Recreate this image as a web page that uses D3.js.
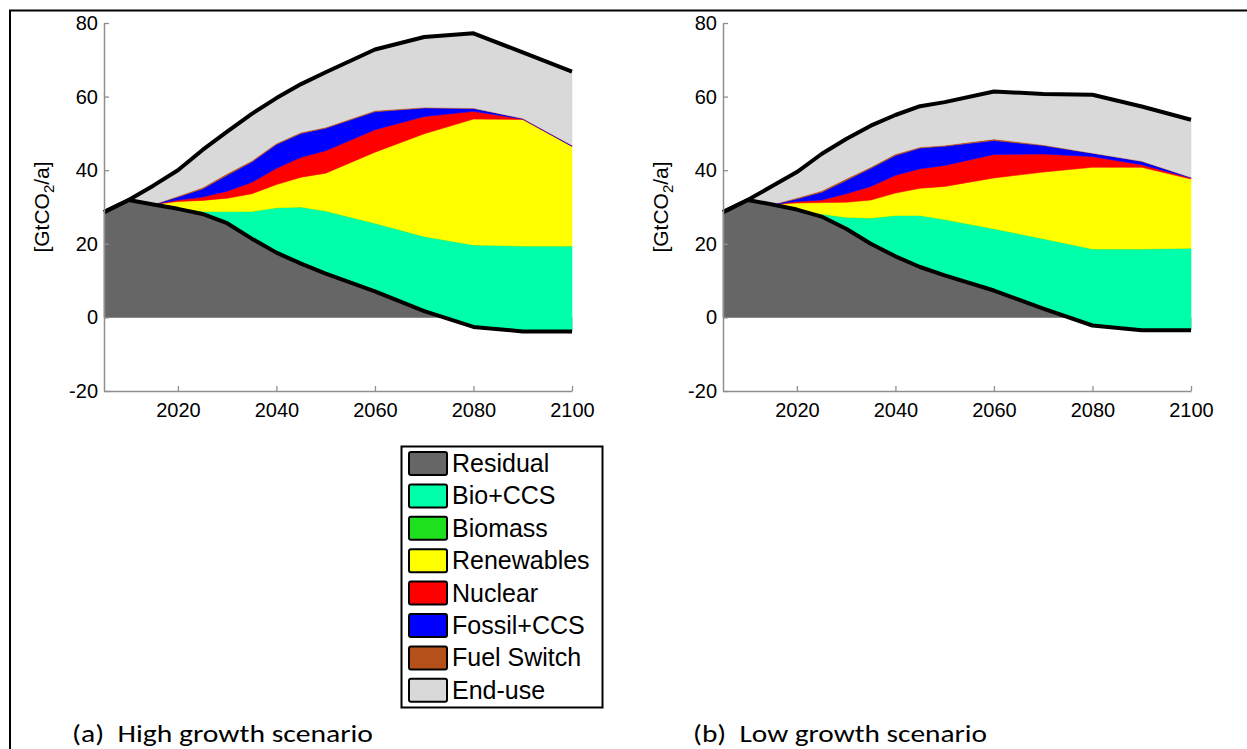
<!DOCTYPE html>
<html><head><meta charset="utf-8">
<script src="https://cdn.jsdelivr.net/npm/d3@7"></script>
<style>body{margin:0;background:#fff} svg{display:block} .cap{white-space:pre}</style>
</head><body><svg id="c" width="1247" height="749"></svg>
<script>
// ---------- data ----------
const years = [2005, 2010, 2015, 2020, 2025, 2030, 2035, 2040, 2045, 2050, 2060, 2070, 2080, 2090, 2100];
const seriesNames = ["Residual", "Bio+CCS", "Biomass", "Renewables", "Nuclear", "Fossil+CCS", "Fuel Switch", "End-use"];
const seriesColors = ["#666666", "#00FFAA", "#1FE01F", "#FFFF00", "#FF0000", "#0000FF", "#B5501A", "#D9D9D9"];

// (a) High growth scenario  [GtCO2/a], wedge sizes
const highResidual   = [28.6, 31.9, 30.7, 29.5, 28.1, 25.6, 21.4, 17.6, 14.6, 11.9, 7.1, 1.7, -2.6, -3.8, -3.8];
const highBioCCS     = [0, 0, 0, 0, 0.7, 3.2, 7.4, 12.2, 15.4, 17.0, 18.5, 20.3, 22.3, 23.2, 23.2];
const highBiomass    = [0, 0, 0, 0, 0, 0, 0, 0, 0, 0, 0, 0, 0, 0, 0];
const highRenewables = [0, 0, 0, 2.0, 3.0, 3.6, 4.8, 6.3, 8.1, 10.3, 19.3, 27.9, 34.2, 34.4, 27.1];
const highNuclear    = [0, 0, 0, 0.4, 0.9, 1.9, 3.1, 4.4, 5.4, 6.1, 6.1, 4.7, 2.1, 0.1, 0];
const highFossilCCS  = [0, 0, 0, 0.8, 2.2, 4.3, 5.5, 6.5, 6.5, 6.1, 4.9, 2.3, 0.8, 0.2, 0.3];
const highFuelSwitch = [0, 0, 0, 0.3, 0.4, 0.5, 0.4, 0.3, 0.3, 0.3, 0.3, 0.2, 0.1, 0, 0];
const highEndUse     = [0, 0, 5.1, 7.0, 10.2, 11.4, 12.7, 12.3, 13.1, 14.9, 16.6, 19.1, 20.3, 17.9, 20.0];

// (b) Low growth scenario
const lowResidual   = [28.6, 31.9, 30.7, 29.3, 27.4, 24.1, 20.0, 16.6, 13.7, 11.4, 7.3, 2.4, -2.2, -3.5, -3.5];
const lowBioCCS     = [0, 0, 0, 0, 0.7, 3.1, 7.0, 11.1, 14.0, 15.2, 16.8, 19.0, 20.8, 22.1, 22.3];
const lowBiomass    = [0, 0, 0, 0, 0, 0, 0, 0, 0, 0, 0, 0, 0, 0, 0];
const lowRenewables = [0, 0, 0, 1.8, 3.1, 4.1, 4.9, 6.1, 7.4, 9.0, 13.8, 18.1, 22.2, 22.2, 18.8];
const lowNuclear    = [0, 0, 0, 0.4, 0.7, 2.3, 3.7, 4.8, 5.3, 5.7, 6.4, 4.9, 2.9, 0.7, 0.3];
const lowFossilCCS  = [0, 0, 0, 0.7, 2.1, 3.6, 4.9, 5.4, 5.6, 5.2, 3.8, 2.3, 0.9, 0.9, 0.2];
const lowFuelSwitch = [0, 0, 0, 0.3, 0.4, 0.5, 0.4, 0.4, 0.3, 0.3, 0.4, 0.2, 0.1, 0.1, 0];
const lowEndUse     = [0, 0, 5.0, 7.0, 10.0, 10.8, 11.2, 10.6, 11.1, 11.7, 12.9, 13.8, 15.8, 14.8, 15.6];

const xTicks = [2020, 2040, 2060, 2080, 2100];
const yTicks = [-20, 0, 20, 40, 60, 80];
const xDomain = [2005, 2100];
const yDomain = [-20, 80];
const captions = ["(a)  High growth scenario", "(b)  Low growth scenario"];

const panels = [
  { series: [highResidual, highBioCCS, highBiomass, highRenewables, highNuclear, highFossilCCS, highFuelSwitch, highEndUse],
    left: 104, caption: captions[0], capX: 72, capW: 301 },
  { series: [lowResidual, lowBioCCS, lowBiomass, lowRenewables, lowNuclear, lowFossilCCS, lowFuelSwitch, lowEndUse],
    left: 723, caption: captions[1], capX: 693, capW: 294 }
];

// ---------- drawing ----------
const svg = d3.select("#c");
svg.append("rect").attr("width", 1247).attr("height", 749).attr("fill", "#fff");

// outer frame (top and left)
svg.append("path").attr("d", "M10,749 V10.5 H1247").attr("fill", "none").attr("stroke", "#000").attr("stroke-width", 2);

const plotW = 468, plotTop = 23, plotBottom = 391;
const armFont = "'Liberation Sans', Arimo, Arial, sans-serif";

panels.forEach(p => {
  const g = svg.append("g");
  const x = d3.scaleLinear().domain(xDomain).range([p.left, p.left + plotW]);
  const y = d3.scaleLinear().domain(yDomain).range([plotBottom, plotTop]);

  const rows = years.map((yr, i) => {
    const r = { year: yr };
    seriesNames.forEach((n, k) => r[n] = p.series[k][i]);
    return r;
  });
  const stacked = d3.stack().keys(seriesNames).offset(d3.stackOffsetNone)(rows);

  const area = d3.area().x(d => x(d.data.year)).y0(d => y(d[0])).y1(d => y(d[1]));
  g.selectAll("path.band").data(stacked).join("path")
    .attr("class", "band")
    .attr("d", area)
    .attr("fill", (d, i) => seriesColors[i])
    .attr("stroke", (d, i) => seriesColors[i])
    .attr("stroke-width", 0.6);

  const line = d3.line().x(d => x(d[0])).y(d => y(d[1]));
  const totals = years.map((yr, i) => [yr, stacked[stacked.length - 1][i][1]]);
  const resid = years.map((yr, i) => [yr, p.series[0][i]]);
  [totals, resid].forEach(pts => {
    g.append("path").attr("d", line(pts)).attr("fill", "none")
      .attr("stroke", "#000").attr("stroke-width", 4)
      .attr("stroke-linejoin", "round").attr("stroke-linecap", "butt");
  });

  // axes
  const axCol = "#8f8f8f";
  const fmt = d => String(d);
  const yAxis = g.append("g").attr("transform", `translate(${p.left},0)`)
    .call(d3.axisLeft(y).tickValues(yTicks).tickFormat(fmt).tickSizeInner(-5).tickSizeOuter(0).tickPadding(6));
  const xAxis = g.append("g").attr("transform", `translate(0,${plotBottom})`)
    .call(d3.axisBottom(x).tickValues(xTicks).tickFormat(fmt).tickSizeInner(-5).tickSizeOuter(0).tickPadding(7));
  [yAxis, xAxis].forEach(a => {
    a.select(".domain").attr("stroke", axCol).attr("stroke-width", 1.5);
    a.selectAll(".tick line").attr("stroke", axCol).attr("stroke-width", 1.3);
    a.selectAll("text").attr("fill", "#000").attr("font-family", armFont).attr("font-size", 20);
  });
  xAxis.selectAll("text").attr("dy", "0.95em");

  // y label
  const lab = g.append("text")
    .attr("transform", `translate(${p.left - 55},${(plotTop + plotBottom) / 2}) rotate(-90)`)
    .attr("text-anchor", "middle").attr("font-family", armFont).attr("font-size", 21).attr("fill", "#000");
  lab.append("tspan").text("[GtCO");
  lab.append("tspan").text("2").attr("font-size", 15).attr("dy", 5);
  lab.append("tspan").text("/a]").attr("dy", -5);

  // caption
  svg.append("text").attr("class", "cap").attr("x", p.capX).attr("y", 742)
    .attr("font-family", "Carlito, Lato, 'Open Sans', sans-serif").attr("font-size", 24)
    .attr("textLength", p.capW).attr("lengthAdjust", "spacingAndGlyphs")
    .attr("fill", "#000").text(p.caption);
});

// legend
const lg = svg.append("g");
lg.append("rect").attr("x", 401.5).attr("y", 446.5).attr("width", 201).attr("height", 261)
  .attr("fill", "#fff").attr("stroke", "#000").attr("stroke-width", 2);
seriesNames.forEach((n, i) => {
  const yy = 452 + i * 32.4;
  lg.append("rect").attr("x", 409).attr("y", yy).attr("width", 38).attr("height", 23).attr("rx", 2)
    .attr("fill", seriesColors[i]).attr("stroke", "#000").attr("stroke-width", 2);
  lg.append("text").attr("x", 452).attr("y", yy + 20).attr("font-family", armFont).attr("font-size", 25)
    .attr("fill", "#000").text(n);
});
</script>
</body></html>
